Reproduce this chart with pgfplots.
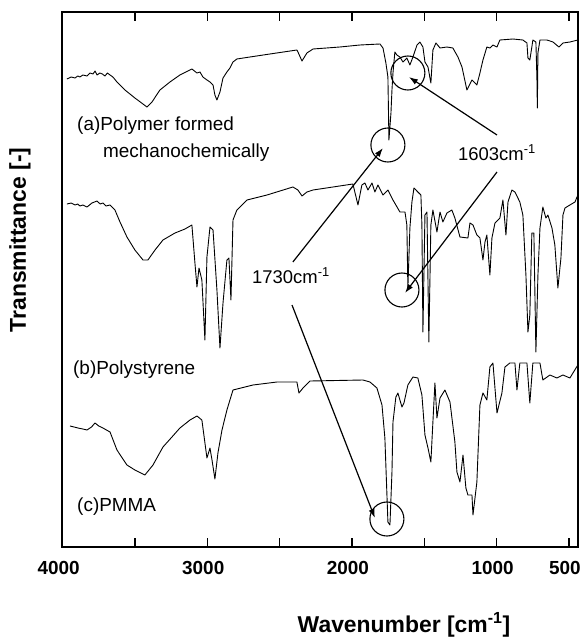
\documentclass[border=0pt]{standalone}
\usepackage{pgfplots}
\pgfplotsset{compat=1.18}
\usepackage{fontspec}
\setmainfont{Liberation Sans}
\usetikzlibrary{arrows.meta}
\newcommand\fs[1]{\fontsize{#1}{#1}\selectfont}
\pgfplotsset{spec/.style={black, line width=0.9bp, line join=round, no markers}}
\begin{document}
\begin{tikzpicture}
\begin{axis}[
  at={(0,0)}, anchor=south west,
  scale only axis, width=516bp, height=535bp,
  x dir=reverse, y dir=reverse,
  xmin=437, xmax=4004, ymin=12, ymax=547,
  xtick={500,1000,1500,2000,2500,3000,3500,4000},
  xticklabels={500,1000,,2000,,3000,,\raisebox{9bp}{4000}},
  xticklabel style={font=\bfseries\fs{19}, xshift=-4bp, yshift=-11bp},
  ytick=\empty,
  tick align=inside,
  major tick length=9bp,
  tick style={line width=1.4bp, black},
  axis line style={line width=1.6bp},
  clip=false,
]
% (a) polymer formed mechanochemically
\addplot[spec] coordinates {(3970,79) (3940,77) (3914,78) (3895,76) (3880,77) (3860,75) (3831,76) (3810,73) (3790,74) (3775,71) (3762,75) (3742,73) (3725,74) (3707,76) (3690,73) (3672,75) (3652,77) (3624,82) (3569,90) (3500,98) (3444,104) (3417,107) (3382,102) (3327,90) (3258,82) (3189,75) (3106,69) (3071,73) (3050,72) (3030,77) (3002,80) (2981,82) (2960,85) (2947,95) (2933,100) (2912,92) (2891,78) (2864,72) (2843,68) (2822,62) (2795,59) (2705,57) (2567,54) (2380,50) (2373,52) (2345,61) (2311,53) (2269,49) (2083,47) (1944,45) (1806,44) (1785,48) (1765,63) (1751,77) (1744,140) (1730,113) (1723,90) (1716,73) (1703,52) (1689,55) (1668,57) (1647,62) (1620,58) (1599,65) (1578,57) (1550,45) (1530,42) (1509,47) (1495,62) (1474,67) (1454,83) (1440,50) (1419,43) (1391,48) (1343,47) (1302,48) (1267,57) (1239,67) (1205,90) (1170,80) (1136,85) (1115,73) (1094,60) (1067,47) (1046,48) (1025,45) (997,47) (977,40) (887,39) (818,40) (790,43) (783,58) (770,60) (756,47) (749,40) (728,42) (721,78) (718,108) (714,53) (700,40) (652,40) (610,42) (569,47) (541,43) (493,42) (438,40)};
% (b) polystyrene
\addplot[spec] coordinates {(3970,204) (3940,203) (3914,205) (3895,204) (3880,206) (3860,205) (3831,207) (3797,203) (3762,201) (3740,204) (3721,203) (3700,206) (3672,205) (3638,210) (3603,222) (3555,237) (3500,250) (3444,260) (3410,260) (3361,250) (3306,240) (3223,233) (3154,229) (3106,225) (3085,263) (3071,287) (3057,268) (3037,280) (3016,340) (3002,257) (2981,227) (2960,230) (2933,290) (2912,348) (2891,303) (2864,260) (2850,258) (2836,300) (2822,220) (2795,210) (2725,200) (2587,195) (2408,187) (2373,190) (2345,196) (2311,192) (2269,190) (1993,184) (1958,205) (1931,185) (1910,183) (1889,190) (1861,183) (1841,192) (1820,185) (1785,195) (1751,190) (1716,200) (1668,212) (1633,212) (1620,225) (1613,288) (1599,228) (1585,202) (1571,188) (1544,192) (1523,195) (1516,225) (1509,332) (1495,215) (1481,212) (1468,342) (1454,225) (1440,210) (1412,232) (1391,212) (1371,222) (1343,213) (1309,210) (1288,218) (1253,237) (1198,238) (1184,223) (1163,225) (1136,235) (1115,238) (1094,260) (1080,242) (1067,235) (1046,275) (1032,238) (1011,223) (977,218) (956,200) (935,235) (921,202) (894,190) (873,192) (839,202) (818,215) (797,275) (783,332) (770,315) (756,233) (742,233) (728,352) (714,275) (700,228) (680,207) (659,218) (645,215) (617,228) (597,245) (576,288) (555,258) (541,215) (527,208) (493,205) (458,202) (438,195)};
% (c) PMMA
\addplot[spec] coordinates {(3949,426) (3920,427) (3894,428) (3860,429) (3831,430) (3800,427) (3776,423) (3750,426) (3721,428) (3672,432) (3624,450) (3555,465) (3500,470) (3431,475) (3375,465) (3306,447) (3244,437) (3189,428) (3119,420) (3071,416) (3037,420) (3002,458) (2981,448) (2967,460) (2947,479) (2926,453) (2898,430) (2864,410) (2822,390) (2684,385) (2518,382) (2380,382) (2366,393) (2338,388) (2290,381) (1924,380) (1875,382) (1827,388) (1792,405) (1772,438) (1751,522) (1737,525) (1723,472) (1716,422) (1696,397) (1682,393) (1654,407) (1640,403) (1613,385) (1578,377) (1544,378) (1516,395) (1495,435) (1474,448) (1454,462) (1440,422) (1426,383) (1412,418) (1391,398) (1357,390) (1322,402) (1288,442) (1274,472) (1253,482) (1232,455) (1212,488) (1198,495) (1170,495) (1163,515) (1136,482) (1115,405) (1094,393) (1067,400) (1046,367) (1025,363) (997,413) (963,393) (942,367) (908,363) (873,363) (859,390) (839,363) (790,363) (770,403) (749,363) (700,363) (680,380) (631,375) (583,378) (541,375) (493,378) (438,365)};
% annotations
\draw[line width=1.1bp] (axis cs:1613,73) circle[radius=17bp];
\draw[line width=1.1bp] (axis cs:1751,145) circle[radius=17bp];
\draw[line width=1.1bp] (axis cs:1654,290) circle[radius=17bp];
\draw[line width=1.1bp] (axis cs:1758,519) circle[radius=17bp];
\draw[-{Latex[length=9bp,width=6bp]}, line width=1.2bp] (axis cs:997,135) -- (axis cs:1606,77);
\draw[-{Latex[length=9bp,width=6bp]}, line width=1.2bp] (axis cs:997,172) -- (axis cs:1633,293);
\draw[-{Latex[length=9bp,width=6bp]}, line width=1.2bp] (axis cs:2408,262) -- (axis cs:1785,148);
\draw[-{Latex[length=9bp,width=6bp]}, line width=1.2bp] (axis cs:2414,305) -- (axis cs:1841,518);
\node[anchor=base west, inner sep=0pt, font=\fs{19}] at (axis cs:3900,130) {(a)Polymer formed};
\node[anchor=base west, inner sep=0pt, font=\fs{19}] at (axis cs:3721,157) {mechanochemically};
\node[anchor=base west, inner sep=0pt, font=\fs{19}] at (axis cs:3928,374) {(b)Polystyrene};
\node[anchor=base west, inner sep=0pt, font=\fs{19}] at (axis cs:3900,511) {(c)PMMA};
\node[anchor=base, inner sep=0pt, font=\fs{18.5}] at (axis cs:997,160) {1603cm\textsuperscript{-1}};
\node[anchor=base, inner sep=0pt, font=\fs{18.5}] at (axis cs:2421,283) {1730cm\textsuperscript{-1}};
\end{axis}
\node[rotate=90, font=\bfseries\fs{23}] at (-42bp,307bp) {Transmittance [-]};
\node[font=\bfseries\fs{23}] at (342bp,-78bp) {Wavenumber [cm\textsuperscript{-1}]};
\pgfresetboundingbox
\useasboundingbox (-62bp,-94bp) rectangle (522bp,547bp);
\end{tikzpicture}
\end{document}
